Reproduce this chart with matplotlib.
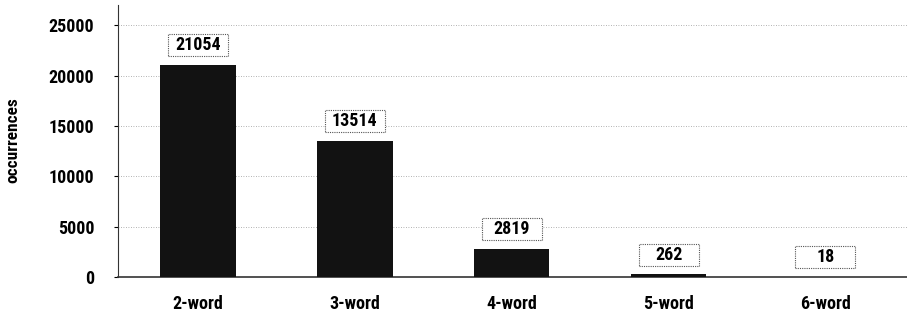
import matplotlib
matplotlib.use("Agg")
import matplotlib.pyplot as plt
from matplotlib import font_manager
from matplotlib.patches import Rectangle
from matplotlib.transforms import ScaledTranslation
import numpy as np

categories = ["2-word", "3-word", "4-word", "5-word", "6-word"]
occurrences = [21054, 13514, 2819, 262, 18]
yticks = [0, 5000, 10000, 15000, 20000, 25000]

names = {f.name for f in font_manager.fontManager.ttflist}
narrow = [n for n in ["Liberation Sans Narrow", "Roboto Condensed", "Open Sans Condensed",
                      "DejaVu Sans Condensed"] if n in names]
plt.rcParams['font.family'] = narrow + ['DejaVu Sans']
plt.rcParams['font.stretch'] = 'condensed'
plt.rcParams['font.weight'] = 'bold'

fig = plt.figure(figsize=(9.07, 3.19), dpi=100)
ax = fig.add_axes([118 / 907, 1 - 277 / 319, 1 - 118 / 907, 272 / 319])

x = np.arange(len(categories))
ax.bar(x, occurrences, width=0.48, color="#121212", zorder=3)

# fixed-size dotted label boxes (in inches, anchored at the bar top)
box_w, box_h, lift = 0.60, 0.22, 14 / 72
for xi, v in zip(x, occurrences):
    tr = fig.dpi_scale_trans + ScaledTranslation(xi, v, ax.transData)
    ax.add_patch(Rectangle((-box_w / 2, lift - box_h / 2), box_w, box_h,
                           transform=tr, fc="white", ec="#555555",
                           ls=(0, (1, 1)), lw=0.8, zorder=4, clip_on=False))
    ax.annotate(str(v), (xi, v), xytext=(0, 14), textcoords="offset points",
                ha="center", va="center", fontsize=13, fontweight="bold", zorder=5)

ax.set_xlim(-0.51, 4.52)
ax.set_ylim(0, 27000)
ax.set_xticks(x)
ax.set_xticklabels(categories)
ax.set_yticks(yticks)
ax.set_yticklabels([str(t) for t in yticks])
ax.tick_params(axis="x", length=0, pad=13, labelsize=13)
ax.tick_params(axis="y", length=3, pad=14, labelsize=13, direction="out")

ax.grid(axis="y", color="#999999", linestyle=(0, (1, 2)), linewidth=0.6, zorder=0)
ax.spines["top"].set_visible(False)
ax.spines["right"].set_visible(False)
ax.spines["left"].set_color("#333333")
ax.spines["bottom"].set_color("#333333")
ax.spines["bottom"].set_linewidth(1.2)

fig.text(13 / 907, 1 - 140 / 319, "occurrences", rotation=90, ha="center",
         va="center", fontsize=12.5, fontweight="bold")

fig.savefig("out.png", dpi=100)
